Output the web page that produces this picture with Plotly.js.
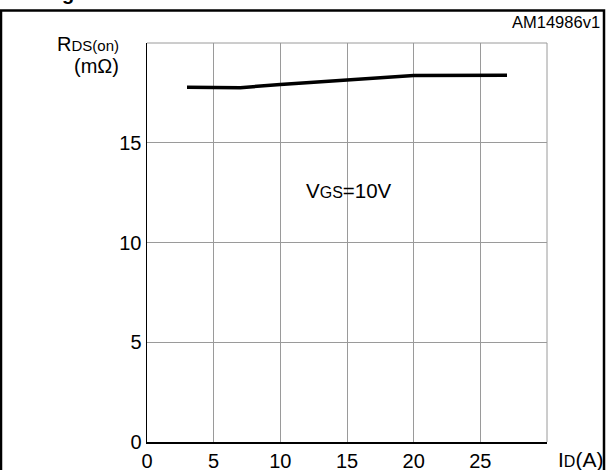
<!DOCTYPE html>
<html>
<head>
<meta charset="utf-8">
<script src="https://cdn.plot.ly/plotly-3.0.1.min.js"></script>
<style>html,body{margin:0;padding:0;background:#fff;}#chart{width:606px;height:470px;}</style>
</head>
<body>
<div id="chart"></div>
<script>
// Data
const idAmps = [3, 7, 10, 15, 20, 27];
const rdsOn = [17.78, 17.76, 17.92, 18.14, 18.37, 18.38];
const xTicks = [0, 5, 10, 15, 20, 25];
const xTickText = ['0', '5', '10', '15', '20', '25'];
const yTicks = [0, 5, 10, 15];
const yTickText = ['0', '5', '10', '15'];

const FONT = 'Liberation Sans, Arial, sans-serif';
const W = 606, H = 470;
const M = {l: 147, r: 59, t: 43, b: 28};
const PW = W - M.l - M.r, PH = H - M.t - M.b;
const px = v => (v - M.l) / PW;
const py = v => (H - M.b - v) / PH;

const trace = {
  x: idAmps, y: rdsOn, type: 'scatter', mode: 'lines',
  line: {color: '#000', width: 3.5, shape: 'linear'},
  hoverinfo: 'skip'
};

const layout = {
  width: W, height: H,
  margin: M,
  paper_bgcolor: '#fff', plot_bgcolor: '#fff',
  showlegend: false,
  font: {family: FONT, size: 18, color: '#000'},
  xaxis: {
    range: [0, 30], tickvals: xTicks, ticktext: xTickText,
    showgrid: true, gridcolor: '#9a9a9a', gridwidth: 1,
    showline: true, linecolor: '#000', linewidth: 1.5,
    ticks: '', zeroline: false, fixedrange: true,
    tickfont: {family: FONT, size: 20, color: '#000'}
  },
  yaxis: {
    range: [0, 20], tickvals: yTicks, ticktext: yTickText,
    showgrid: true, gridcolor: '#9a9a9a', gridwidth: 1,
    showline: true, linecolor: '#000', linewidth: 1.5,
    ticks: '', zeroline: false, fixedrange: true,
    tickfont: {family: FONT, size: 20, color: '#000'}
  },
  shapes: [
    {type: 'line', xref: 'paper', yref: 'paper', x0: 0, x1: 1, y0: 1, y1: 1, line: {color: '#9a9a9a', width: 1}},
    {type: 'line', xref: 'paper', yref: 'paper', x0: 1, x1: 1, y0: 0, y1: 1, line: {color: '#9a9a9a', width: 1}},
    {type: 'rect', xref: 'paper', yref: 'paper', x0: px(1), x1: px(604), y0: py(500), y1: py(10.5),
     line: {color: '#000', width: 2.5}, fillcolor: 'rgba(0,0,0,0)'}
  ],
  annotations: [
    {xref: 'paper', yref: 'paper', x: px(602), y: py(22), xanchor: 'right', yanchor: 'middle',
     text: 'AM14986v1', showarrow: false, font: {family: FONT, size: 16.5, color: '#000'}},
    {xref: 'paper', yref: 'paper', x: px(121), y: py(44), xanchor: 'right', yanchor: 'middle',
     text: 'R<span style="font-size:15px">DS(on)</span>', showarrow: false, font: {family: FONT, size: 20, color: '#000'}},
    {xref: 'paper', yref: 'paper', x: px(121), y: py(66), xanchor: 'right', yanchor: 'middle',
     text: '(mΩ)', showarrow: false, font: {family: FONT, size: 20, color: '#000'}},
    {xref: 'paper', yref: 'paper', x: px(349), y: py(190), xanchor: 'center', yanchor: 'middle',
     text: 'V<span style="font-size:16px">GS</span>=10V', showarrow: false, font: {family: FONT, size: 20.5, color: '#000'}},
    {xref: 'paper', yref: 'paper', x: px(580), y: py(459), xanchor: 'center', yanchor: 'middle',
     text: 'I<span style="font-size:16px">D</span>(A)', showarrow: false, font: {family: FONT, size: 21, color: '#000'}},
    {xref: 'paper', yref: 'paper', x: px(68), y: py(-7), xanchor: 'center', yanchor: 'middle',
     text: '<b>g</b>', showarrow: false, font: {family: FONT, size: 20, color: '#000'}}
  ]
};

Plotly.newPlot('chart', [trace], layout, {displayModeBar: false, staticPlot: true});
</script>
</body>
</html>
